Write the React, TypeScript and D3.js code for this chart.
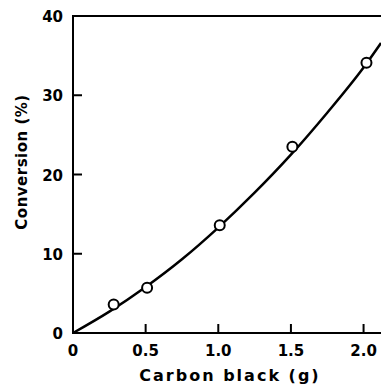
import { useEffect, useRef } from 'react'
import * as d3 from 'd3'

// measured points
const sampleX = [0.28, 0.51, 1.01, 1.51, 2.02]
const sampleY = [3.6, 5.7, 13.6, 23.5, 34.1]

// fitted curve
const fitX = [0, 0.25, 0.5, 0.75, 1.0, 1.25, 1.5, 1.75, 2.0, 2.12]
const fitY = [0, 2.7, 5.8, 9.3, 13.3, 17.7, 22.5, 27.8, 33.5, 36.6]

const xTicks = [0, 0.5, 1.0, 1.5, 2.0]
const xTickLabels = ['0', '0.5', '1.0', '1.5', '2.0']
const yTicks = [0, 10, 20, 30, 40]

export default function App() {
  const svgRef = useRef<SVGSVGElement>(null)

  useEffect(() => {
    const svg = d3.select(svgRef.current)
    svg.selectAll('*').remove()
    const w = 381, h = 386
    const M = { t: 16, r: 0, b: 53, l: 73 }

    const xSc = d3.scaleLinear().domain([0, 2.12]).range([M.l, w - M.r])
    const ySc = d3.scaleLinear().domain([0, 40]).range([h - M.b, M.t])
    const font = '"DejaVu Sans", sans-serif'

    svg.attr('width', w).attr('height', h)
    svg.append('rect').attr('width', w).attr('height', h).attr('fill', '#fff')

    const g = svg.append('g')
    // frame: left, bottom, top
    g.append('path')
      .attr('d', `M${xSc.range()[1]},${ySc(40)}H${xSc(0)}V${ySc(0)}H${xSc.range()[1]}`)
      .attr('fill', 'none').attr('stroke', '#000').attr('stroke-width', 2)

    xTicks.forEach((t, i) => {
      if (t > 0) g.append('line').attr('x1', xSc(t)).attr('x2', xSc(t)).attr('y1', ySc(0)).attr('y2', ySc(0) - 9)
        .attr('stroke', '#000').attr('stroke-width', 2)
      g.append('text').attr('x', xSc(t)).attr('y', ySc(0) + 23).attr('text-anchor', 'middle')
        .attr('font-family', font).attr('font-weight', 'bold').attr('font-size', 15).text(xTickLabels[i])
    })
    yTicks.forEach(t => {
      if (t > 0 && t < 40) g.append('line').attr('x1', xSc(0)).attr('x2', xSc(0) + 9).attr('y1', ySc(t)).attr('y2', ySc(t))
        .attr('stroke', '#000').attr('stroke-width', 2)
      g.append('text').attr('x', xSc(0) - 10).attr('y', ySc(t) + 6).attr('text-anchor', 'end')
        .attr('font-family', font).attr('font-weight', 'bold').attr('font-size', 15).text(String(t))
    })

    const line = d3.line<number>().x(d => xSc(d)).y((_, i) => ySc(fitY[i])).curve(d3.curveMonotoneX)
    g.append('path').datum(fitX).attr('fill', 'none').attr('stroke', '#000').attr('stroke-width', 2.5).attr('d', line)

    sampleX.forEach((x, i) => {
      g.append('circle').attr('cx', xSc(x)).attr('cy', ySc(sampleY[i])).attr('r', 5)
        .attr('fill', '#fff').attr('stroke', '#000').attr('stroke-width', 2)
    })

    g.append('text').attr('x', 230).attr('y', 381).attr('text-anchor', 'middle')
      .attr('font-family', font).attr('font-weight', 'bold').attr('font-size', 16).attr('letter-spacing', 2)
      .text('Carbon black (g)')
    g.append('text').attr('transform', `translate(27,162) rotate(-90)`).attr('text-anchor', 'middle')
      .attr('font-family', font).attr('font-weight', 'bold').attr('font-size', 15).attr('letter-spacing', 0.5)
      .text('Conversion (%)')
  }, [])

  return <svg ref={svgRef} style={{ position: 'absolute', left: 0, top: 0 }} />
}
